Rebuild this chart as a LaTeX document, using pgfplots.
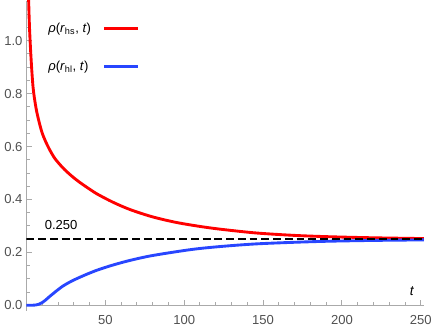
\documentclass[border=0pt]{standalone}
\usepackage{fontspec}
\setmainfont{Liberation Sans}
\usepackage{pgfplots}
\pgfplotsset{compat=1.18}

\definecolor{mred}{rgb}{1,0,0}
\definecolor{mblue}{RGB}{40,70,255}
\definecolor{axgray}{RGB}{170,170,170}
\definecolor{lblgray}{RGB}{80,80,80}

\begin{document}
\begin{tikzpicture}
\begin{axis}[
    scale only axis,
    width=304.5pt, height=237.5pt,
    axis lines=middle,
    axis line style={-, axgray, line width=0.8pt},
    hide obscured x ticks=false,
    hide obscured y ticks=false,
    xmin=0, xmax=252,
    ymin=-0.02, ymax=1.152,
    xtick={50,100,150,200,250},
    minor xtick={10,20,...,240},
    ytick={0,0.2,0.4,0.6,0.8,1.0},
    minor ytick={0.05,0.1,...,1.15},
    tick align=inside,
    major tick length=4pt,
    minor tick length=2.4pt,
    every tick/.style={axgray, line width=0.7pt},
    tick label style={font=\fontsize{10}{12}\selectfont, text=lblgray},
    xticklabel style={yshift=-4pt},
    yticklabel style={xshift=0.5pt},
    /pgf/number format/assume math mode=true,
    yticklabel style={/pgf/number format/.cd, fixed, fixed zerofill, precision=1},
    xlabel={\textit{t}},
    every axis x label/.style={at={(axis cs:244.5,0.052)}, anchor=center, font=\fontsize{10.5}{12}\selectfont},
    legend plot pos=right,
    legend cell align=left,
    legend style={at={(rel axis cs:0.038,0.945)}, anchor=north west, draw=none, fill=none,
        font=\fontsize{10}{12}\selectfont, row sep=16.5pt,
        /tikz/every odd column/.append style={column sep=7pt}},
    legend image code/.code={\draw[#1, line width=2.2pt] (0pt,0pt) -- (26pt,0pt);},
]

\addplot[mred, line width=2.2pt, smooth] coordinates {
(1.0,1.30) (1.2,1.22) (1.4,1.15) (2,1.04) (3,0.925) (4.3,0.818) (6.4,0.735)
(9.5,0.660) (12,0.621) (14.7,0.588) (18,0.555) (23,0.520) (28,0.492)
(33,0.468) (39,0.443) (45,0.420) (55,0.389) (66,0.361) (80,0.334)
(95,0.313) (111,0.297) (125,0.286) (146,0.273) (170,0.264) (192,0.259)
(220,0.255) (252,0.252)
};
\addlegendentry{\textit{ρ}(\textit{r}\textsubscript{hs}, \textit{t})}

\addplot[mblue, line width=2.2pt, smooth] coordinates {
(0,0) (4,0) (6,0.001) (8,0.004) (10,0.010) (12,0.019) (14.7,0.033) (19,0.054)
(23,0.072) (27,0.086) (31,0.098) (37,0.114) (43.6,0.130) (50,0.143)
(56,0.154) (66,0.170) (80,0.188) (105,0.211) (125,0.223) (146,0.232)
(170,0.238) (192,0.242) (220,0.245) (252,0.247)
};
\addlegendentry{\textit{ρ}(\textit{r}\textsubscript{hl}, \textit{t})}

\addplot[black, line width=2pt, dash pattern=on 6pt off 3pt, forget plot] coordinates {
(0,0.25) (252,0.25)
};

\node[font=\fontsize{10}{12}\selectfont] at (axis cs:22,0.302) {0.250};

\end{axis}
\end{tikzpicture}
\end{document}
